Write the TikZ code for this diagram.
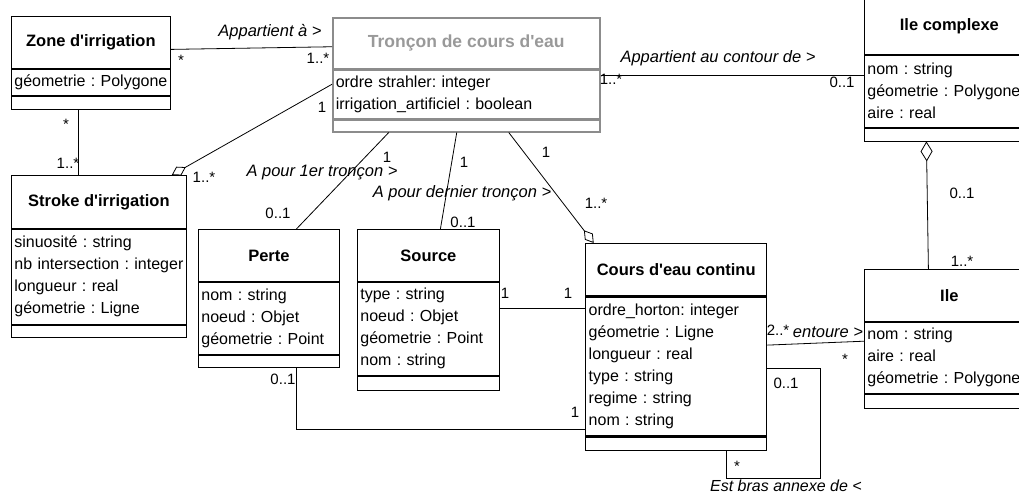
\documentclass[tikz,border=0pt]{standalone}
\usepackage{fontspec}
\setmainfont{Liberation Sans}
\usetikzlibrary{arrows.meta}

\begin{document}
\frenchspacing
\begin{tikzpicture}[x=1pt,y=-1pt,line width=0.8pt]
\tikzstyle{every node} = [font=\fontsize{16}{22}\selectfont]
\tikzstyle{titre} = [draw, anchor=north west, inner sep=0pt, font=\fontsize{16.5}{22}\selectfont\bfseries]
\tikzstyle{attr} = [draw, anchor=north west, align=left, inner xsep=3pt, inner ysep=0pt]
\tikzstyle{vide} = [draw, anchor=north west, inner sep=0pt]
\tikzstyle{gris} = [draw=black!45, line width=1.5pt]
\tikzstyle{lien} = [inner sep=0pt, font=\fontsize{16.5}{22}\selectfont\itshape]
\tikzstyle{mult} = [inner sep=0pt, font=\fontsize{15}{18}\selectfont]
\tikzstyle{agreg} = [-{Diamond[open,length=16pt,width=10pt]}]

\useasboundingbox (0,0) rectangle (1019,493);
\clip (0,0) rectangle (1019,493);

\node[titre, minimum width=159pt, minimum height=52pt] (zone) at (11,16) {Zone d\textquotesingle irrigation};
\node[attr, text width=153pt, minimum height=26pt] (zone-a) at (zone.south west) {géometrie : Polygone};
\node[vide, minimum width=159pt, minimum height=13pt] (zone-v) at (zone-a.south west) {};

\node[titre, gris, text=black!40, font=\fontsize{17.5}{22}\selectfont\bfseries, minimum width=267pt, minimum height=51pt] (tronc) at (332,17) {Tronçon de cours d\textquotesingle eau};
\node[attr, gris, text width=261pt, minimum height=48pt] (tronc-a) at (tronc.south west) {ordre strahler: integer\\irrigation\_artificiel : boolean};
\node[vide, gris, minimum width=267pt, minimum height=12pt] (tronc-v) at (tronc-a.south west) {};

\node[titre, minimum width=170pt, minimum height=57pt] (ilec) at (864,-3) {Ile complexe};
\node[attr, text width=164pt, minimum height=72pt] (ilec-a) at (ilec.south west) {nom : string\\géometrie : Polygone\\aire : real};
\node[vide, minimum width=170pt, minimum height=13pt] (ilec-v) at (ilec-a.south west) {};

\node[titre, minimum width=175pt, minimum height=53pt] (stroke) at (11,175) {Stroke d\textquotesingle irrigation};
\node[attr, text width=169pt, minimum height=95pt] (stroke-a) at (stroke.south west) {sinuosité : string\\nb intersection : integer\\longueur : real\\géometrie : Ligne};
\node[vide, minimum width=175pt, minimum height=12pt] (stroke-v) at (stroke-a.south west) {};

\node[titre, minimum width=141pt, minimum height=52pt] (perte) at (198,229) {Perte};
\node[attr, text width=135pt, minimum height=72pt] (perte-a) at (perte.south west) {nom : string\\noeud : Objet\\géometrie : Point};
\node[vide, minimum width=141pt, minimum height=12pt] (perte-v) at (perte-a.south west) {};

\node[titre, minimum width=142pt, minimum height=52pt] (source) at (357,229) {Source};
\node[attr, text width=136pt, minimum height=93pt] (source-a) at (source.south west) {type : string\\noeud : Objet\\géometrie : Point\\nom : string};
\node[vide, minimum width=142pt, minimum height=14pt] (source-v) at (source-a.south west) {};

\node[titre, line width=1.4pt, minimum width=181pt, minimum height=52pt] (cours) at (585,243) {Cours d\textquotesingle eau continu};
\node[attr, line width=1.4pt, text width=175pt, minimum height=139pt] (cours-a) at (cours.south west) {ordre\_horton: integer\\géometrie : Ligne\\longueur : real\\type : string\\regime : string\\nom : string};
\node[vide, line width=1.4pt, minimum width=181pt, minimum height=13pt] (cours-v) at (cours-a.south west) {};

\node[titre, minimum width=170pt, minimum height=52pt] (ile) at (864,269) {Ile};
\node[attr, text width=164pt, minimum height=71pt] (ile-a) at (ile.south west) {nom : string\\aire : real\\géometrie : Polygone};
\node[vide, minimum width=170pt, minimum height=14pt] (ile-v) at (ile-a.south west) {};

\draw ([yshift=-7pt]zone.east) -- ([yshift=-3.5pt]tronc.west);
\draw ([xshift=-13pt]zone-v.south) -- ([xshift=-13pt]zone-v.south |- stroke.north);
\draw[agreg] ([yshift=10pt]tronc-a.west) -- ([xshift=-15pt]stroke.north east);
\draw ([yshift=19pt]tronc-a.east) -- ([yshift=19pt]tronc-a.east -| ilec-a.west);
\draw ([xshift=-77.5pt]tronc-v.south) -- ([xshift=27.5pt]perte.north);
\draw ([xshift=-9.5pt]tronc-v.south) -- ([xshift=12pt]source.north);
\draw[agreg] ([xshift=42.5pt]tronc-v.south) -- ([xshift=-82.5pt]cours.north);
\draw ([yshift=20.5pt]source-a.east) -- ([yshift=20.5pt]source-a.east -| cours-a.west);
\draw[{Diamond[open,length=20pt,width=12pt]}-] ([xshift=-23pt]ilec-v.south) -- ([xshift=-21pt]ile.north);
\draw ([yshift=21.5pt]cours-a.east) -- ([yshift=16.5pt]ile-a.west);
\draw ([xshift=27.5pt]perte-v.south) |- ([yshift=-62.5pt]cours-a.west);
\draw ([yshift=-1.5pt]cours-a.east) -- ++(53,0) -- ++(0,110) -| ([xshift=50.5pt]cours-v.south);

\node[lien] (l-app) at (270,32) {Appartient à >};
\node[lien] (l-contour) at (718,58) {Appartient au contour de >};
\node[lien] (l-premier) at (322,173) {A pour 1er tronçon >};
\node[lien] (l-dernier) at (462,193) {A pour dernier tronçon >};
\node[lien] (l-entoure) at (828,332) {entoure >};
\node[lien, anchor=base, font=\fontsize{16}{20}\selectfont\itshape] (l-bras) at (786,491) {Est bras annexe de <};

\node[mult] (m-zone) at (181,60) {*};
\node[mult] (m-tronc1) at (318,58) {1..*};
\node[mult] (m-zone2) at (66,124) {*};
\node[mult] (m-stroke1) at (68,163) {1..*};
\node[mult] (m-tronc2) at (322,107) {1};
\node[mult] (m-stroke2) at (204,177) {1..*};
\node[mult] (m-tronc3) at (611,79) {1..*};
\node[mult] (m-ilec) at (842,82) {0..1};
\node[mult] (m-tronc4) at (387,157) {1};
\node[mult] (m-perte) at (278,213) {0..1};
\node[mult] (m-tronc5) at (464,162) {1};
\node[mult] (m-source) at (463,222) {0..1};
\node[mult] (m-tronc6) at (546,152) {1};
\node[mult] (m-cours) at (596,203) {1..*};
\node[mult] (m-source2) at (505,293) {1};
\node[mult] (m-cours2) at (568,293) {1};
\node[mult] (m-ilec2) at (962,193) {0..1};
\node[mult] (m-ile) at (962,261) {1..*};
\node[mult] (m-cours3) at (778,330) {2..*};
\node[mult] (m-ile2) at (845,359) {*};
\node[mult] (m-perte2) at (283,379) {0..1};
\node[mult] (m-cours4) at (575,412) {1};
\node[mult] (m-cours5) at (786,383) {0..1};
\node[mult] (m-cours6) at (737,466) {*};
\end{tikzpicture}
\end{document}
